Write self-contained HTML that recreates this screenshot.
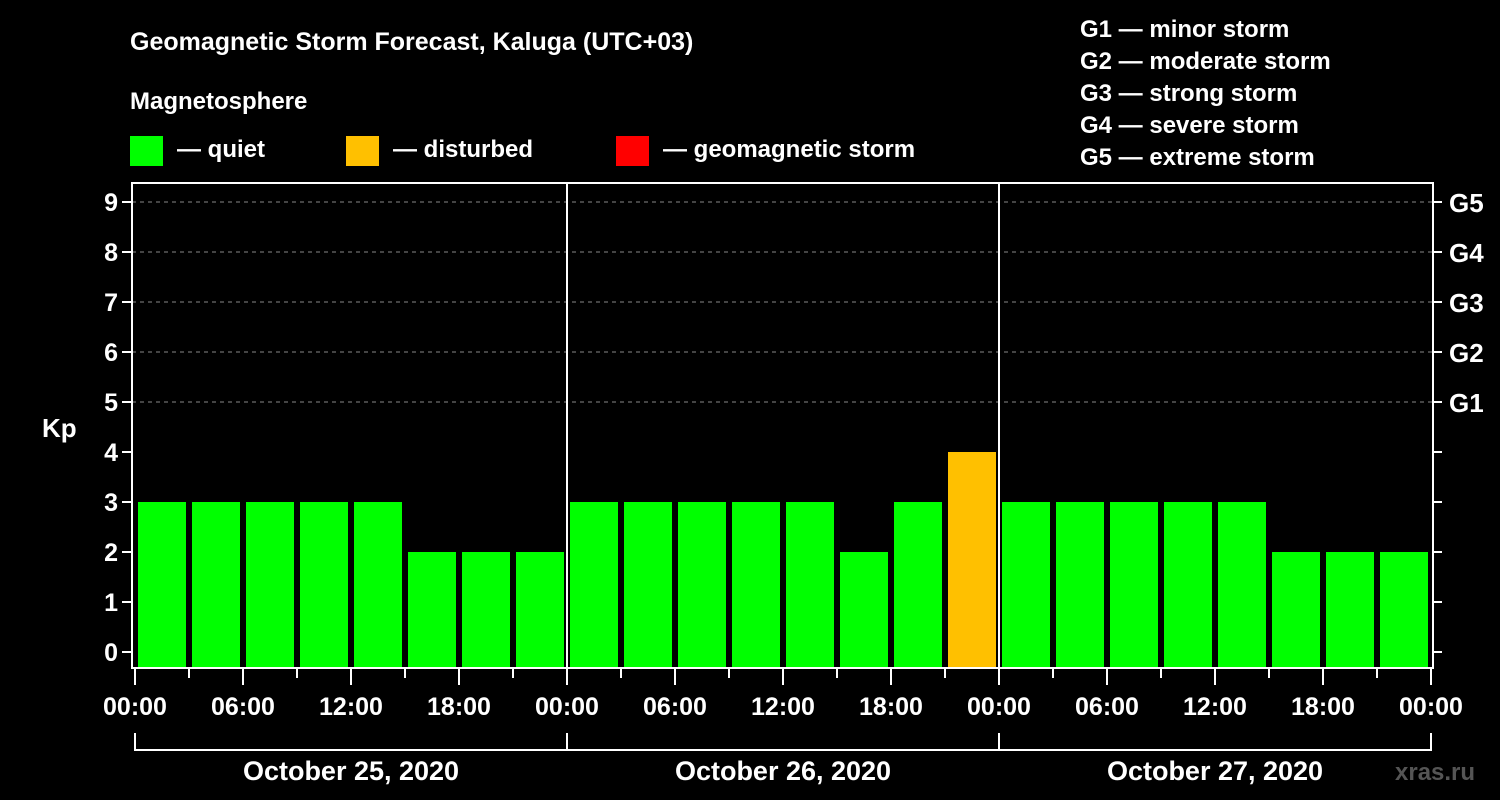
<!DOCTYPE html>
<html><head><meta charset="utf-8"><style>
html,body{margin:0;padding:0;background:#000;}
svg{display:block;font-family:"Liberation Sans",Arial,sans-serif;font-weight:bold;}
</style></head><body>
<svg id="chart" width="1500" height="800" viewBox="0 0 1500 800">
<rect width="1500" height="800" fill="#000"/>
<text x="130" y="50" fill="#fff" font-size="25">Geomagnetic Storm Forecast, Kaluga (UTC+03)</text>
<text x="130" y="109" fill="#fff" font-size="24">Magnetosphere</text>
<g><rect x="130" y="136" width="33" height="30" fill="#00ff00"/><text x="177" y="157" fill="#fff" font-size="24">— quiet</text></g>
<g><rect x="346" y="136" width="33" height="30" fill="#ffc000"/><text x="393" y="157" fill="#fff" font-size="24">— disturbed</text></g>
<g><rect x="616" y="136" width="33" height="30" fill="#ff0000"/><text x="663" y="157" fill="#fff" font-size="24">— geomagnetic storm</text></g>
<g fill="#fff" font-size="24">
<text x="1080" y="37">G1 — minor storm</text>
<text x="1080" y="69">G2 — moderate storm</text>
<text x="1080" y="101">G3 — strong storm</text>
<text x="1080" y="133">G4 — severe storm</text>
<text x="1080" y="165">G5 — extreme storm</text>
</g>
<text x="42" y="437" fill="#fff" font-size="26">Kp</text>
<text x="1395" y="780" fill="#555" font-size="24">xras.ru</text>
<g id="plot"></g>
</svg>
<script>
const values = [3,3,3,3,3,2,2,2, 3,3,3,3,3,2,3,4, 3,3,3,3,3,2,2,2];
const yTicks = [0,1,2,3,4,5,6,7,8,9];
const gLabels = ['G1','G2','G3','G4','G5'];
const gLevels = [5,6,7,8,9];
const timeLabels = ['00:00','06:00','12:00','18:00'];
const dayLabels = ['October 25, 2020','October 26, 2020','October 27, 2020'];

const NS='http://www.w3.org/2000/svg';
const plot=document.getElementById('plot');
const L=132,R=1433,T=183,B=668,X0=135,slot=54;
const y=v=>652-50*v;
const x=i=>X0+slot*i;
function mk(tag,a,parent){const e=document.createElementNS(NS,tag);for(const k in a)e.setAttribute(k,a[k]);(parent||plot).appendChild(e);return e;}
function color(v){return v>=5?'#ff0000':(v>=4?'#ffc000':'#00ff00');}

yTicks.forEach(v=>{
  if(v>=5){const g=mk('line',{x1:L,x2:R,y1:y(v),y2:y(v),stroke:'#888','stroke-width':1,'stroke-dasharray':'4,4'});
  
  }
  mk('line',{x1:L-10,x2:L,y1:y(v),y2:y(v),stroke:'#fff','stroke-width':2});
  mk('line',{x1:R,x2:R+9,y1:y(v),y2:y(v),stroke:'#fff','stroke-width':2});
  const t=mk('text',{x:L-14,y:y(v)+9,fill:'#fff','font-size':25,'text-anchor':'end'});t.textContent=v;
  
  
});
gLevels.forEach((v,i)=>{
  const t=mk('text',{x:1449,y:y(v)+10,fill:'#fff','font-size':26});t.textContent=gLabels[i];
  
  
});
values.forEach((v,i)=>{
  const r=mk('rect',{x:x(i)+3,y:y(v),width:48,height:B-y(v),fill:color(v)});
  
  
});
mk('rect',{x:L,y:T,width:R-L,height:B-T,fill:'none',stroke:'#fff','stroke-width':2});
for(let d=1;d<3;d++){mk('line',{x1:x(8*d),x2:x(8*d),y1:T,y2:B,stroke:'#fff','stroke-width':2});}
for(let i=0;i<=24;i++){
  const major=i%2===0;
  mk('line',{x1:x(i),x2:x(i),y1:B,y2:major?685:678,stroke:'#fff','stroke-width':2});
  if(major){const t=mk('text',{x:x(i),y:715,fill:'#fff','font-size':25,'text-anchor':'middle'});
  t.textContent=timeLabels[(i/2)%4];
  
  }
}
dayLabels.forEach((d,k)=>{
  const a=x(8*k),b=x(8*k+8);
  mk('path',{d:`M${a},733 V750 H${b} V733`,fill:'none',stroke:'#fff','stroke-width':2});
  const t=mk('text',{x:(a+b)/2,y:780,fill:'#fff','font-size':27,'text-anchor':'middle'});t.textContent=d;
  
  
});
</script>
</body></html>
